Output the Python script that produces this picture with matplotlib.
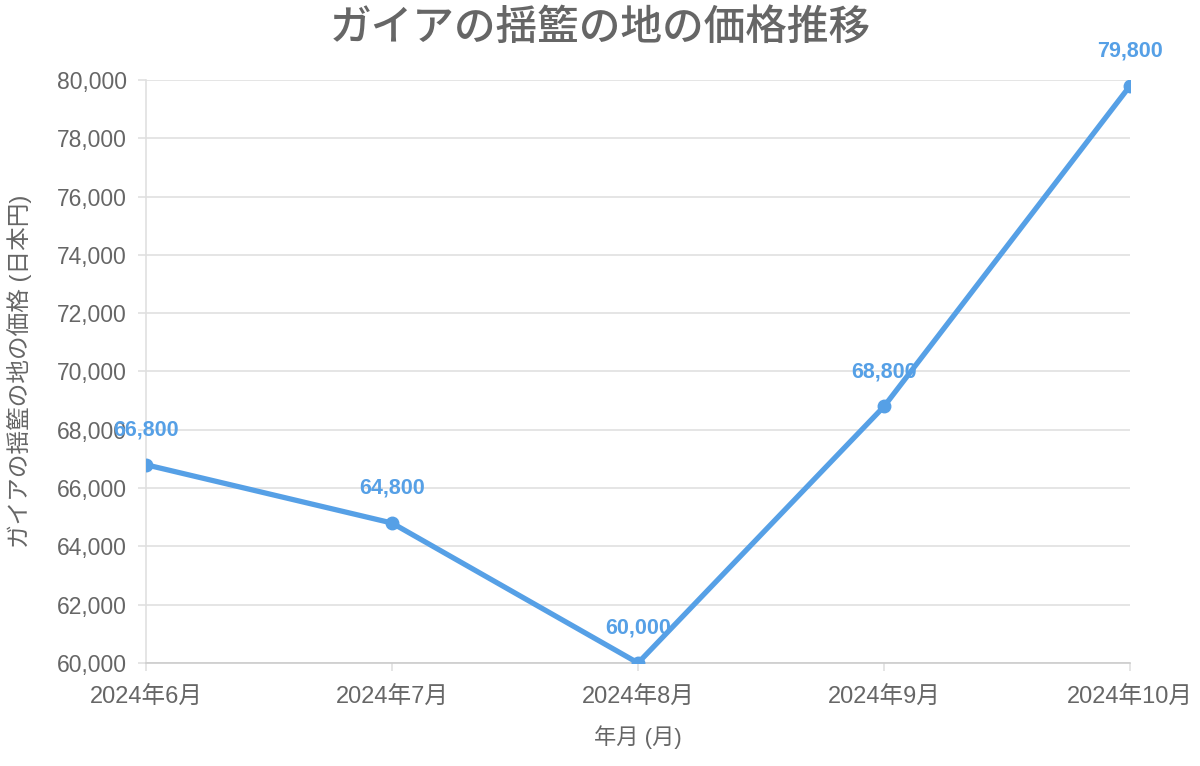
import matplotlib.pyplot as plt
from matplotlib.ticker import FuncFormatter

plt.rcParams['font.family'] = ['Liberation Sans', 'Noto Sans CJK JP', 'DejaVu Sans']

months = ['2024年6月', '2024年7月', '2024年8月', '2024年9月', '2024年10月']
prices = [66800, 64800, 60000, 68800, 79800]

line_color = '#56a0e6'
text_color = '#666666'
grid_color = '#e0e0e0'

fig = plt.figure(figsize=(12, 7.66), dpi=100)
ax = fig.add_axes([0.1217, 0.1345, 0.82, 0.7611])

x = list(range(len(months)))
ax.plot(x, prices, color=line_color, lw=3.8, marker='o', ms=9, zorder=3,
        solid_capstyle='round')
for xi, p in zip(x, prices):
    ax.annotate(f'{p:,}', (xi, p), xytext=(0, 25), textcoords='offset points',
                ha='center', va='center', fontsize=15.5, fontweight='bold',
                color=line_color, zorder=4)

ax.set_xlim(0, len(months) - 1)
ax.set_ylim(60000, 80000)
ax.set_yticks(range(60000, 80001, 2000))
ax.yaxis.set_major_formatter(FuncFormatter(lambda v, _: f'{int(v):,}'))
ax.set_xticks(x)
ax.set_xticklabels(months)

ax.grid(axis='y', color=grid_color, lw=1.2)
ax.set_axisbelow(True)
for s in ['top', 'right']:
    ax.spines[s].set_visible(False)
ax.spines['left'].set_color(grid_color)
ax.spines['left'].set_linewidth(1.2)
ax.spines['bottom'].set_color('#cccccc')
ax.spines['bottom'].set_linewidth(1.2)
ax.tick_params(axis='both', colors=grid_color, labelcolor=text_color,
               length=6, width=1.2)
ax.tick_params(axis='y', pad=8, labelsize=16.5)
ax.tick_params(axis='x', pad=11, labelsize=17)

# title is centred on the whole figure, not on the axes
fig.suptitle('ガイアの揺籃の地の価格推移', fontsize=30, fontweight='medium',
             family=['Noto Sans CJK JP', 'DejaVu Sans'],
             color=text_color, x=0.5, y=1 - 27 / 766, va='center')
ax.set_xlabel('年月 (月)', fontsize=16, color=text_color, labelpad=12)
ax.set_ylabel('ガイアの揺籃の地の価格 (日本円)', fontsize=17, color=text_color, labelpad=18)

fig.savefig('out.png', dpi=100)
